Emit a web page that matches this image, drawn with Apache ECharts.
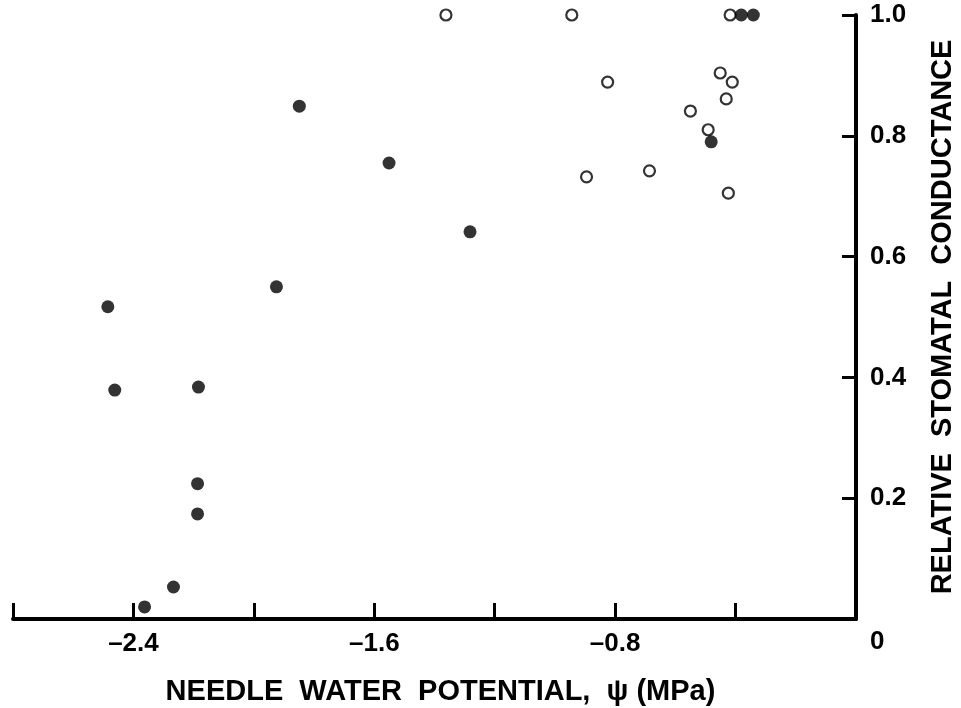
<!DOCTYPE html>
<html>
<head>
<meta charset="utf-8">
<script src="https://cdn.jsdelivr.net/npm/echarts@6/dist/echarts.min.js"></script>
<style>
  html, body { margin: 0; padding: 0; background: #fff; }
  #chart { width: 961px; height: 708px; }
</style>
</head>
<body>
<div id="chart"></div>
<script>
// needle water potential (MPa) vs relative stomatal conductance
const filledX = [-2.485, -2.462, -2.184, -2.187, -2.187, -2.267, -2.363, -1.925, -1.849, -1.551, -1.282, -0.481, -0.381, -0.341];
const filledY = [0.517, 0.379, 0.384, 0.224, 0.174, 0.053, 0.020, 0.550, 0.849, 0.755, 0.641, 0.790, 1.0, 1.0];

const openX = [-1.362, -0.944, -0.418, -0.825, -0.451, -0.411, -0.431, -0.550, -0.491, -0.895, -0.686, -0.424];
const openY = [1.0, 1.0, 1.0, 0.889, 0.904, 0.889, 0.861, 0.841, 0.810, 0.732, 0.742, 0.705];

const xLabels = ['-2.4', '-1.6', '-0.8'];
const yLabels = ['0.2', '0.4', '0.6', '0.8', '1.0'];

const toPairs = (xs, ys) => xs.map((x, i) => [x, ys[i]]);

var chartDom = document.getElementById('chart');
var myChart = echarts.init(chartDom);

const font = '"Liberation Sans", Arial, sans-serif';

var option = {
    animation: false,
    backgroundColor: '#fff',
    grid: {
        left: 13,
        right: 105,
        top: 15,
        bottom: 89,
        outerBoundsMode: 'none'
    },
    xAxis: {
        type: 'value',
        min: -2.8,
        max: 0,
        interval: 0.4,
        name: 'NEEDLE  WATER  POTENTIAL,  \u03c8 (MPa)',
        nameLocation: 'middle',
        nameGap: 58,
        nameTextStyle: {
            color: '#000',
            fontFamily: font,
            fontWeight: 'bold',
            fontSize: 29,
            padding: [0, 0, 0, 12]
        },
        splitLine: { show: false },
        axisLine: { lineStyle: { color: '#000', width: 4 } },
        axisTick: { inside: true, length: 16, lineStyle: { color: '#000', width: 3 } },
        axisLabel: {
            margin: 12,
            color: '#000',
            fontFamily: font,
            fontWeight: 'bold',
            fontSize: 26,
            formatter: (v) => {
                const s = v.toFixed(1);
                return xLabels.includes(s) ? s.replace('-', '\u2013') : '';
            }
        }
    },
    yAxis: {
        type: 'value',
        position: 'right',
        min: 0,
        max: 1,
        interval: 0.2,
        name: 'RELATIVE  STOMATAL  CONDUCTANCE',
        nameLocation: 'middle',
        nameRotate: 90,
        nameGap: 72,
        nameTextStyle: {
            color: '#000',
            fontFamily: font,
            fontWeight: 'bold',
            fontSize: 29
        },
        splitLine: { show: false },
        axisLine: { show: true, lineStyle: { color: '#000', width: 4 } },
        axisTick: { show: true, inside: true, length: 14, lineStyle: { color: '#000', width: 3 } },
        axisLabel: {
            margin: 14,
            color: '#000',
            fontFamily: font,
            fontWeight: 'bold',
            fontSize: 26,
            formatter: (v) => {
                if (v === 0) return '{z|0}';
                const s = v.toFixed(1);
                return yLabels.includes(s) ? s : '';
            },
            rich: {
                z: {
                    color: '#000',
                    fontFamily: font,
                    fontWeight: 'bold',
                    fontSize: 26,
                    padding: [46, 0, 0, 0]
                }
            }
        }
    },
    series: [
        {
            name: 'filled',
            type: 'scatter',
            data: toPairs(filledX, filledY),
            symbol: 'circle',
            symbolSize: 13,
            itemStyle: { color: '#000' },
            z: 3
        },
        {
            name: 'open',
            type: 'scatter',
            data: toPairs(openX, openY),
            symbol: 'circle',
            symbolSize: 11,
            itemStyle: { color: '#fff', borderColor: '#000', borderWidth: 2.2 },
            z: 2
        }
    ]
};

option && myChart.setOption(option);
</script>
</body>
</html>
